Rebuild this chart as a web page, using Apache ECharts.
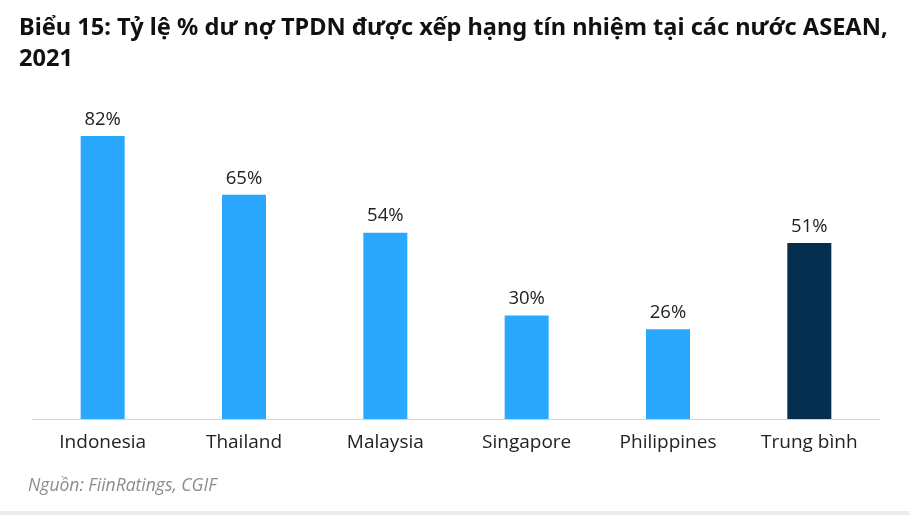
<!DOCTYPE html>
<html><head><meta charset="utf-8">
<script src="https://cdn.jsdelivr.net/npm/echarts@6/dist/echarts.min.js"></script>
<style>html,body{margin:0;padding:0;background:#fff}#c{width:910px;height:515px}</style>
</head><body><div id="c"></div>
<script>
const categories = ["Indonesia","Thailand","Malaysia","Singapore","Philippines","Trung bình"];
const values = [82,65,54,30,26,51];
const highlight = [false,false,false,false,false,true];
const titleText = "Biểu 15: Tỷ lệ % dư nợ TPDN được xếp hạng tín nhiệm tại các nước ASEAN,\n2021";
const sourceText = "Nguồn: FiinRatings, CGIF";

const chart = echarts.init(document.getElementById('c'), null, {renderer:'canvas'});
chart.setOption({
  animation:false,
  backgroundColor:'#fff',
  title:{text:titleText,left:14,top:8,textStyle:{fontFamily:'Noto Sans',fontWeight:'bold',fontSize:23.6,lineHeight:31,color:'#111'}},
  graphic:[
    {type:'text',left:28,top:477,style:{text:sourceText,font:'italic 17.5px "Open Sans"',fill:'#8c8c8c'}},
    {type:'rect',shape:{x:0,y:511,width:910,height:4},style:{fill:'#ececec'}}
  ],
  grid:{left:32,right:30,top:74,bottom:96},
  xAxis:{type:'category',data:categories,axisLine:{lineStyle:{color:'#d4d4d4',width:1}},axisTick:{show:false},
    axisLabel:{fontFamily:'Open Sans',fontSize:19,color:'#222',margin:14}},
  yAxis:{type:'value',min:0,max:100,show:false,splitLine:{show:false}},
  series:[{type:'bar',barWidth:44,
    data:values.map((v,i)=>({value:v,itemStyle:{color:highlight[i]?'#062E4F':'#2AA8FE'}})),
    label:{show:true,position:'top',distance:7,formatter:p=>p.value+'%',fontFamily:'Open Sans',fontSize:18.5,color:'#222'}}]
});
</script></body></html>
